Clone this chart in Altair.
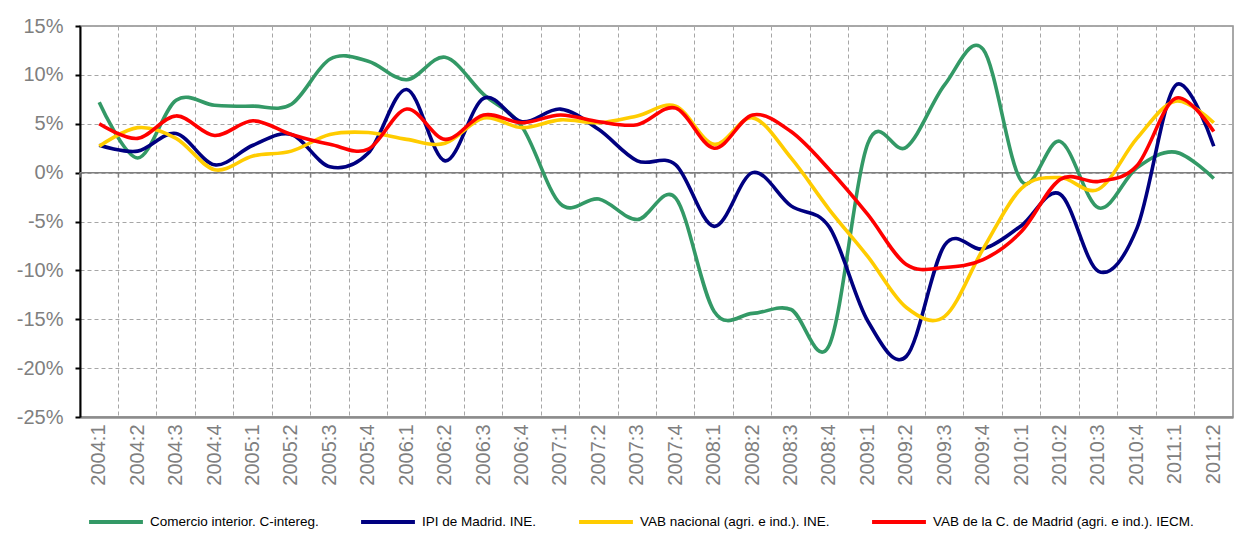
import altair as alt
import pandas as pd

quarters = ["2004:1", "2004:2", "2004:3", "2004:4", "2005:1", "2005:2", "2005:3", "2005:4",
            "2006:1", "2006:2", "2006:3", "2006:4", "2007:1", "2007:2", "2007:3", "2007:4",
            "2008:1", "2008:2", "2008:3", "2008:4", "2009:1", "2009:2", "2009:3", "2009:4",
            "2010:1", "2010:2", "2010:3", "2010:4", "2011:1", "2011:2"]

series_names = ["Comercio interior. C-intereg.",
                "IPI de Madrid. INE.",
                "VAB nacional (agri. e ind.). INE.",
                "VAB de la C. de Madrid (agri. e ind.). IECM."]

comercio = [7.2, 1.5, 7.4, 6.9, 6.8, 7.0, 11.6, 11.4, 9.5, 11.8, 8.0, 4.7, -3.2, -2.7, -4.8,
            -2.6, -14.2, -14.4, -14.0, -17.6, 3.0, 2.6, 9.0, 12.6, -0.9, 3.2, -3.6, 0.5, 2.1, -0.6]
ipi = [2.8, 2.2, 4.0, 0.8, 2.8, 3.9, 0.6, 2.0, 8.5, 1.2, 7.6, 5.2, 6.5, 4.4, 1.2,
       0.8, -5.5, 0.0, -3.4, -5.6, -15.2, -18.8, -7.4, -7.8, -5.4, -2.2, -10.1, -5.7, 8.9, 2.7]
vab_nac = [2.7, 4.6, 3.5, 0.3, 1.7, 2.2, 3.9, 4.1, 3.4, 3.0, 5.6, 4.6, 5.4, 5.1, 5.8,
           6.8, 2.9, 5.6, 1.5, -3.8, -8.6, -13.8, -14.7, -7.8, -1.6, -0.5, -1.7, 3.5, 7.3, 5.1]
vab_mad = [5.0, 3.5, 5.8, 3.8, 5.3, 3.9, 2.9, 2.4, 6.5, 3.4, 5.9, 5.1, 5.9, 5.2, 4.9,
           6.6, 2.5, 5.9, 4.2, 0.3, -4.3, -9.4, -9.7, -8.9, -6.0, -0.7, -0.9, 0.7, 7.6, 4.2]

colors = ["#339966", "#000080", "#FFCC00", "#FF0000"]
y_ticks = [-25, -20, -15, -10, -5, 0, 5, 10, 15]
zero = [0]

rows = []
for name, vals in zip(series_names, [comercio, ipi, vab_nac, vab_mad]):
    for q, v in zip(quarters, vals):
        rows.append({"q": q, "v": v, "s": name})
df = pd.DataFrame(rows)
df_q = pd.DataFrame({"q": quarters})
df_zero = pd.DataFrame({"z": zero})

W = 1153
H = 391

x_main = alt.X(
    "q:N", sort=quarters, title=None,
    scale=alt.Scale(type="band", paddingInner=0, paddingOuter=0),
    axis=alt.Axis(
        orient="bottom", bandPosition=0, grid=True, gridColor="#A6A6A6",
        gridDash=[4, 3], gridWidth=1, ticks=False, domain=True,
        domainColor="#8C8C8C", domainWidth=2.5, labelAngle=-90, labelPadding=7,
        labelFontSize=20, labelColor="#7F7F7F",
        labelFont="Liberation Sans", labelBaseline="middle", labelAlign="right",
    ),
)

lines = alt.Chart(df).mark_line(
    interpolate="cardinal", tension=0, strokeWidth=3.6
).encode(
    x=x_main,
    y=alt.Y(
        "v:Q", title=None,
        scale=alt.Scale(domain=[-25, 15], nice=False, zero=False),
        axis=alt.Axis(
            values=y_ticks, labelExpr="datum.value + '%'", grid=True,
            gridColor="#A6A6A6", gridDash=[4, 3], gridWidth=1,
            domainColor="#000000", domainWidth=2, tickColor="#000000",
            tickSize=5, tickWidth=2, labelPadding=12, labelFontSize=20,
            labelColor="#7F7F7F", labelFont="Liberation Sans",
            minExtent=72, maxExtent=72,
        ),
    ),
    color=alt.Color(
        "s:N", sort=series_names, title=None,
        scale=alt.Scale(domain=series_names, range=colors),
        legend=alt.Legend(
            orient="none", legendX=7, legendY=467, direction="horizontal",
            symbolType="stroke", symbolSize=2900, symbolStrokeWidth=4,
            labelFontSize=13.5, labelFont="Liberation Sans", labelColor="#000000",
            labelOffset=5, columnPadding=34, labelLimit=400,
        ),
    ),
)

zero_line = alt.Chart(df_zero).mark_rule(color="#7F7F7F", strokeWidth=1.5).encode(
    y=alt.Y("z:Q")
)

zero_ticks = alt.Chart(df_q).mark_rule(color="#7F7F7F", strokeWidth=1.5).encode(
    x=alt.X("q:N", sort=quarters, bandPosition=0),
    y=alt.datum(0),
    y2=alt.datum(-0.5),
)

chart = alt.layer(zero_line, zero_ticks, lines).properties(
    width=W, height=H,
    padding={"left": 0, "top": 8, "right": 0, "bottom": 0},
).configure_view(
    stroke="#8C8C8C", strokeWidth=1.5
)

chart.save("out.html", embed_options={"renderer": "svg", "actions": False})
